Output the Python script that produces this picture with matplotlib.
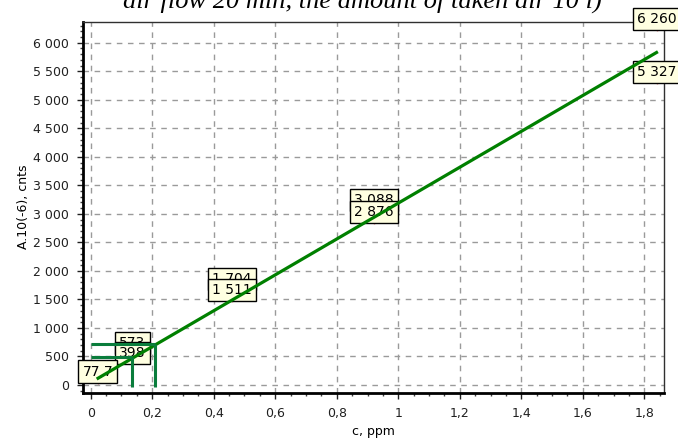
import matplotlib
matplotlib.use("Agg")
import matplotlib.pyplot as plt
import numpy as np
from matplotlib.ticker import MultipleLocator, FuncFormatter

# calibration points (c, ppm / A.10(-6), cnts)
conc = [0.023, 0.136, 0.136, 0.46, 0.46, 0.92, 0.92, 1.84, 1.84]
counts = [77.7, 398, 573, 1511, 1704, 2876, 3088, 5327, 6260]
point_labels = ["77,7", "398", "573", "1 511", "1 704", "2 876", "3 088", "5 327", "6 260"]

# calibration line
fit_slope = 3144.6
fit_intercept = 43.7
fit_range = [0.0195, 1.844]

# sample readings (drawn as L-shaped guides)
sample_conc = [0.135, 0.209]
sample_counts = [486, 719]

title = "air flow 20 min, the amount of taken air 10 l)"
xlabel = "c, ppm"
ylabel = "A.10(-6), cnts"

plt.rcParams["font.family"] = ["DejaVu Sans"]

fig = plt.figure(figsize=(6.78, 4.43), dpi=100)
ax = fig.add_axes([0.1224, 0.1135, 0.857, 0.8375])

ax.set_xlim(-0.025, 1.864)
ax.set_ylim(-135, 6368)

ax.grid(True, which="major", color="#9a9a9a", linestyle=(0, (4, 4)), linewidth=1)
ax.set_axisbelow(True)

ax.plot(conc, counts, linestyle="none", marker="v", color="#d00000",
        markersize=3.5, zorder=2)

# labels: lower value of each pair sits on top
order = np.argsort(counts)[::-1]
for k, i in enumerate(order):
    ax.annotate(point_labels[i], (conc[i], counts[i]), xytext=(0, 1.5),
                textcoords="offset points", ha="center", va="bottom",
                fontsize=10, color="black", annotation_clip=False,
                bbox=dict(boxstyle="square,pad=0.3", fc="#ffffe1",
                          ec="black", lw=1),
                zorder=3 + k * 0.01)

fx = np.array(fit_range)
ax.plot(fx, fit_intercept + fit_slope * fx, color="#008000", lw=2.3,
        solid_capstyle="butt", zorder=5)

for sx, sy in zip(sample_conc, sample_counts):
    ax.plot([0, sx], [sy, sy], color="#0a7d3c", lw=2.2, solid_capstyle="butt", zorder=5)
    ax.plot([sx, sx], [sy, -30], color="#0a7d3c", lw=2.2, solid_capstyle="butt", zorder=5)

ax.xaxis.set_major_locator(MultipleLocator(0.2))
ax.xaxis.set_minor_locator(MultipleLocator(0.05))
ax.yaxis.set_major_locator(MultipleLocator(500))
ax.yaxis.set_minor_locator(MultipleLocator(100))
ax.xaxis.set_major_formatter(FuncFormatter(
    lambda v, p: ("%g" % round(v, 2)).replace(".", ",")))
ax.yaxis.set_major_formatter(FuncFormatter(
    lambda v, p: "{:,.0f}".format(v).replace(",", " ")))

ax.tick_params(which="major", direction="out", length=4, width=1,
               labelsize=9, colors="#202020", pad=6)
ax.tick_params(which="minor", direction="out", length=2, width=1, colors="#404040")

for side in ["left", "bottom"]:
    ax.spines[side].set_linewidth(2)
    ax.spines[side].set_color("black")
for side in ["top", "right"]:
    ax.spines[side].set_linewidth(1)
    ax.spines[side].set_color("#303030")

ax.set_xlabel(xlabel, fontsize=9, labelpad=4)
ax.set_ylabel(ylabel, fontsize=9, labelpad=2)

# title is cut off by the top edge, as in the source image
fig.text(0.535, 0.984, title, ha="center", va="baseline",
         family="Liberation Serif", style="italic", fontsize=19)

fig.savefig("out.png", dpi=100)
